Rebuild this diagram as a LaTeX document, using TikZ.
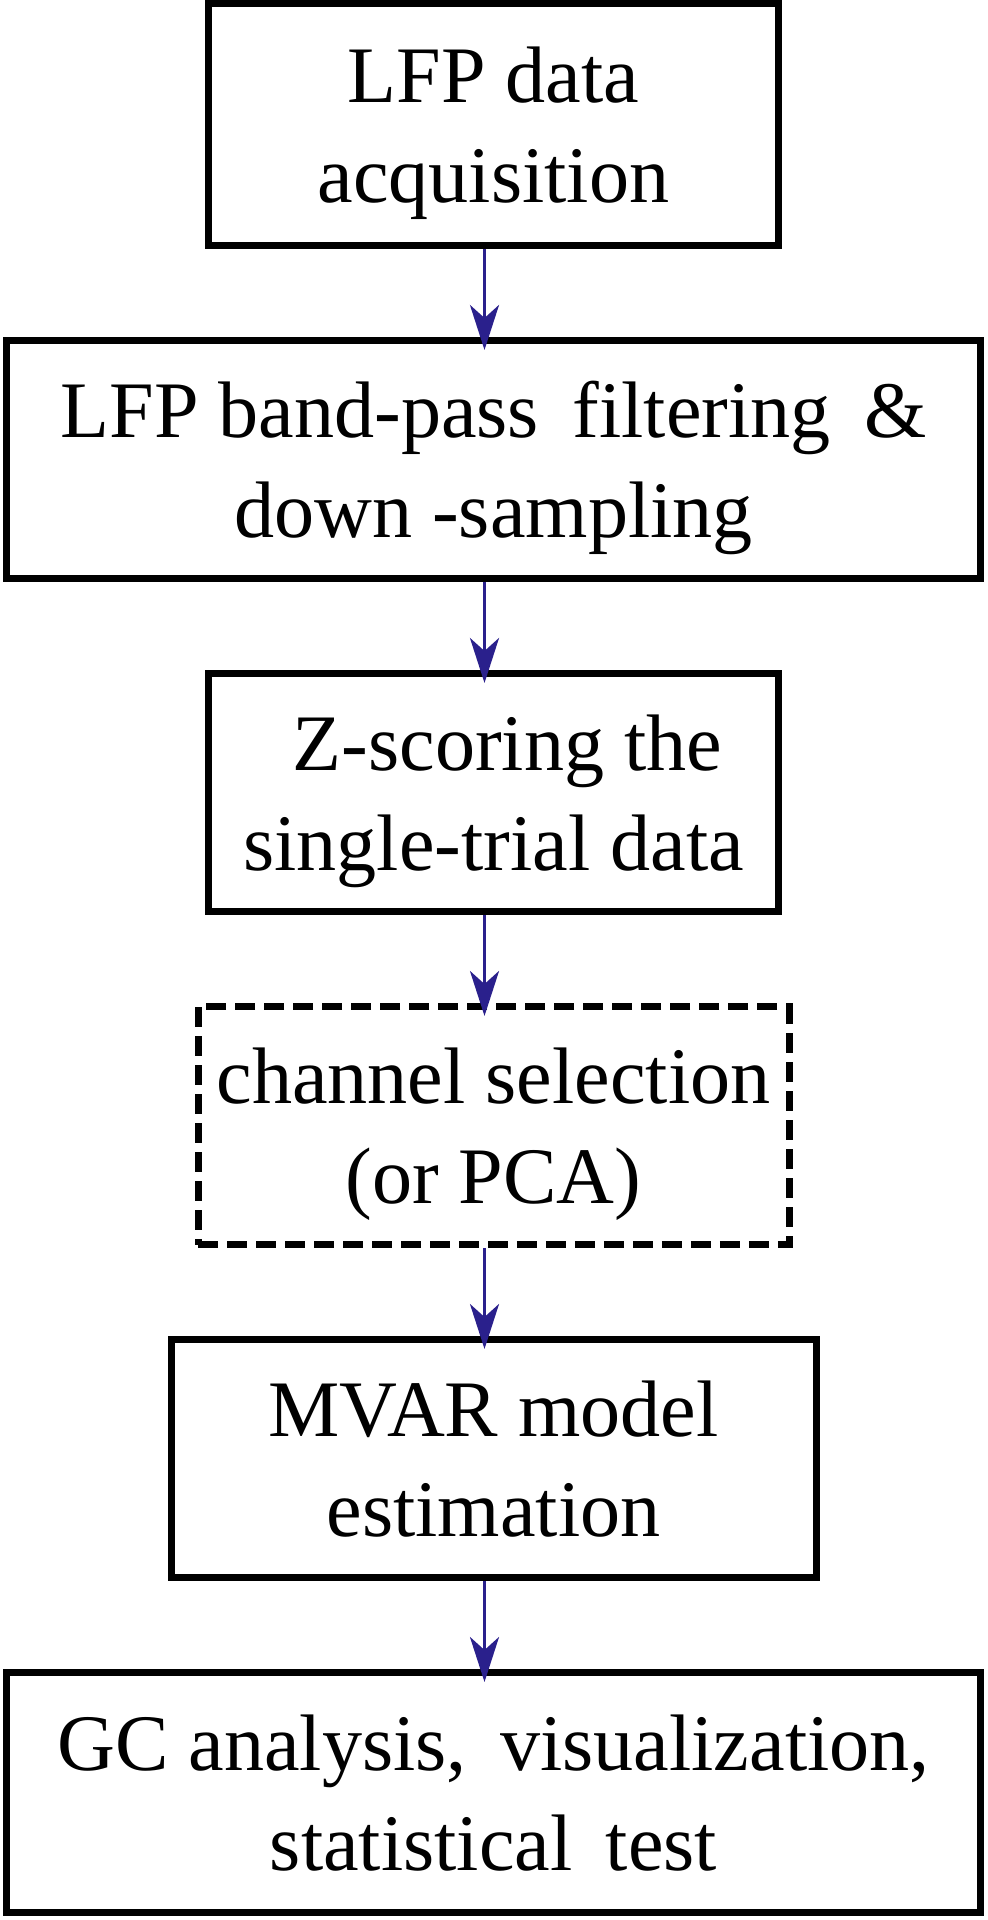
\documentclass[tikz,border=0pt]{standalone}
\usepackage{fontspec}
\setmainfont{Liberation Serif}
\newfontfamily\boxfont{Liberation Serif}
\usetikzlibrary{arrows.meta, positioning}
\definecolor{flowblue}{RGB}{42,32,140}

\begin{document}
\begin{tikzpicture}[node distance=0.88cm, >={Stealth[length=0.45cm, width=0.29cm, inset=0.13cm]},
  procbox/.style={draw, rectangle, line width=0.07cm, align=center, inner sep=0pt, minimum height=2.38cm, text depth=0pt, font=\boxfont\fontsize{22.8pt}{28.45pt}\selectfont},
  optbox/.style={procbox, dash pattern=on 0.2cm off 0.09cm},
  flow/.style={->, draw=flowblue, line width=0.035cm, shorten >=-0.13cm}]
  \useasboundingbox (0,0) rectangle (9.87,-19.2);

  % processing steps, top to bottom
  \node[procbox, minimum width=5.7cm, minimum height=2.42cm] (acq) at (4.935,-1.245) {LFP data\\acquisition};
  \node[procbox, below=of acq, minimum width=9.74cm] (filt) {LFP band-pass\, filtering\, \&\\down -sampling};
  \node[procbox, below=of filt, minimum width=5.7cm] (zscore) {\hspace*{0.28cm}Z-scoring the\\single-trial data};
  \node[optbox, below=of zscore, minimum width=5.91cm] (chsel) {channel selection\\(or PCA)};
  \node[procbox, below=of chsel, minimum width=6.45cm] (mvar) {MVAR model\\estimation};
  \node[procbox, below=of mvar, minimum width=9.74cm, minimum height=2.4cm] (gc) {GC analysis,\, visualization,\\statistical\, test};

  % connections (slightly left of the box centres)
  \draw[flow] ([xshift=-0.09cm]acq.south) -- ([xshift=-0.09cm]filt.north);
  \draw[flow] ([xshift=-0.09cm]filt.south) -- ([xshift=-0.09cm]zscore.north);
  \draw[flow] ([xshift=-0.09cm]zscore.south) -- ([xshift=-0.09cm]chsel.north);
  \draw[flow] ([xshift=-0.09cm]chsel.south) -- ([xshift=-0.09cm]mvar.north);
  \draw[flow] ([xshift=-0.09cm]mvar.south) -- ([xshift=-0.09cm]gc.north);
\end{tikzpicture}
\end{document}
